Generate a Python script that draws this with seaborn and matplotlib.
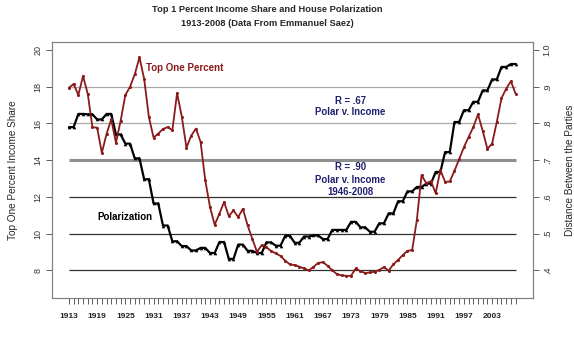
import numpy as np
import pandas as pd
import seaborn as sns
import matplotlib.pyplot as plt

# top 1% income share (percent), one value per year 1913-2008
years = list(range(1913, 2009))
top_share = [
    17.95, 18.15, 17.55, 18.58, 17.62, 15.80, 15.77, 14.40, 15.43, 16.22,
    14.95, 16.15, 17.55, 18.00, 18.68, 19.60, 18.43, 16.36, 15.23, 15.45,
    15.70, 15.80, 15.63, 17.65, 16.38, 14.68, 15.33, 15.72, 15.00, 12.90,
    11.45, 10.48, 11.08, 11.72, 10.95, 11.26, 10.90, 11.35, 10.45, 9.72,
    9.00, 9.37, 9.25, 9.05, 8.92, 8.78, 8.52, 8.32, 8.28, 8.20,
    8.10, 8.00, 8.18, 8.40, 8.44, 8.25, 8.00, 7.79, 7.72, 7.70,
    7.70, 8.10, 7.95, 7.85, 7.88, 7.92, 8.02, 8.17, 7.98, 8.33,
    8.56, 8.83, 9.06, 9.10, 10.75, 13.18, 12.75, 12.85, 12.20, 13.46,
    12.82, 12.84, 13.42, 14.06, 14.70, 15.26, 15.80, 16.50, 15.60, 14.62,
    14.90, 16.08, 17.38, 17.90, 18.30, 17.62,
]

# house polarization (distance between the parties), one value per congress
congress_start = list(range(1913, 2009, 2))
polarization = [
    0.790, 0.826, 0.825, 0.811, 0.826, 0.770, 0.745, 0.705, 0.648, 0.582,
    0.522, 0.479, 0.466, 0.454, 0.461, 0.447, 0.477, 0.431, 0.470, 0.453,
    0.447, 0.476, 0.467, 0.494, 0.475, 0.492, 0.495, 0.485, 0.510, 0.510,
    0.532, 0.517, 0.505, 0.528, 0.555, 0.588, 0.615, 0.627, 0.636, 0.668,
    0.722, 0.804, 0.836, 0.859, 0.890, 0.920, 0.954, 0.962,
]

left_ticks = [8, 10, 12, 14, 16, 18, 20]
right_ticks = [0.4, 0.5, 0.6, 0.7, 0.8, 0.9, 1.0]
right_labels = [".4", ".5", ".6", ".7", ".8", ".9", "1.0"]
year_labels = list(range(1913, 2008, 6))

income = pd.DataFrame({"year": years, "share": top_share})
polar = pd.DataFrame({"year": years, "distance": np.repeat(polarization, 2)})

sns.set_style("white")
plt.rcParams['font.family'] = ['Liberation Sans', 'DejaVu Sans']

maroon = "#8b1a1a"
navy = "#1f1f70"

fig = plt.figure(figsize=(5.74, 3.5), dpi=100)
ax = fig.add_axes([52 / 574, 52 / 350, 481 / 574, 256 / 350])
ax2 = ax.twinx()
ax.set_zorder(ax2.get_zorder() + 1)
ax.patch.set_visible(False)

# reference lines
for v, c, lw in [(0.4, "#303030", 0.9), (0.5, "#303030", 0.9), (0.6, "#303030", 0.9),
                 (0.7, "#8f8f8f", 2.2), (0.8, "#a8a8a8", 0.9), (0.9, "#a8a8a8", 0.9)]:
    ax2.hlines(v, 1913, 2008, color=c, lw=lw, zorder=1)

sns.lineplot(data=polar, x="year", y="distance", ax=ax2, color="black", lw=1.6,
             marker="^", markersize=2.6, markeredgewidth=0, zorder=3)
sns.lineplot(data=income, x="year", y="share", ax=ax, color=maroon, lw=1.3,
             marker="o", markersize=2.2, markeredgewidth=0, zorder=4)

ylim = (6.49, 20.44)
ax.set_ylim(*ylim)
ax2.set_ylim(ylim[0] / 20, ylim[1] / 20)
ax.set_xlim(1909.4, 2011.7)

ax.set_yticks(left_ticks)
ax.set_yticklabels([str(t) for t in left_ticks], rotation=90, va="center", fontsize=6.5, color="#333333")
ax2.set_yticks(right_ticks)
ax2.set_yticklabels(right_labels, rotation=90, va="center", fontsize=6.5, color="#333333")
ax.set_xticks(years)
ax.set_xticklabels([str(y) if y in year_labels else "" for y in years],
                   fontsize=6, fontweight="bold", color="#222222")
ax.tick_params(axis="x", length=4.5, width=0.6, color="#444444", pad=6, direction="out", bottom=True)
ax.tick_params(axis="y", length=4, width=0.6, color="#444444", pad=3, left=True)
ax2.tick_params(axis="y", length=4, width=0.6, color="#444444", pad=3, right=True)

ax.set_xlabel("")
ax.set_ylabel("Top One Percent Income Share", fontsize=7.2)
ax.yaxis.set_label_coords(-0.071, 0.5)
ax2.set_ylabel("Distance Between the Parties", fontsize=7.2, rotation=90)
ax2.yaxis.set_label_coords(1.066, 0.5)

for a in (ax, ax2):
    for s in a.spines.values():
        s.set_color("#808080")
        s.set_linewidth(0.8)

fig.text(267 / 574, 1 - 10 / 350, "Top 1 Percent Income Share and House Polarization",
         ha="center", va="center", fontsize=6.7, fontweight="bold")
fig.text(267 / 574, 1 - 24 / 350, "1913-2008 (Data From Emmanuel Saez)",
         ha="center", va="center", fontsize=6.7, fontweight="bold")

ax.text(1929.4, 19.02, "Top One Percent", color=maroon, fontsize=7, fontweight="bold",
        ha="left", va="center")
ax.text(1972.8, 17.24, "R = .67", color=navy, fontsize=6.9, fontweight="bold", ha="center", va="center")
ax.text(1972.8, 16.64, "Polar v. Income", color=navy, fontsize=6.9, fontweight="bold", ha="center", va="center")
ax.text(1972.8, 13.64, "R = .90", color=navy, fontsize=6.9, fontweight="bold", ha="center", va="center")
ax.text(1972.8, 12.92, "Polar v. Income", color=navy, fontsize=6.9, fontweight="bold", ha="center", va="center")
ax.text(1972.8, 12.25, "1946-2008", color=navy, fontsize=6.9, fontweight="bold", ha="center", va="center")
ax.text(1924.9, 10.92, "Polarization", color="black", fontsize=7, fontweight="bold", ha="center", va="center")

fig.savefig("out.png", dpi=100)
